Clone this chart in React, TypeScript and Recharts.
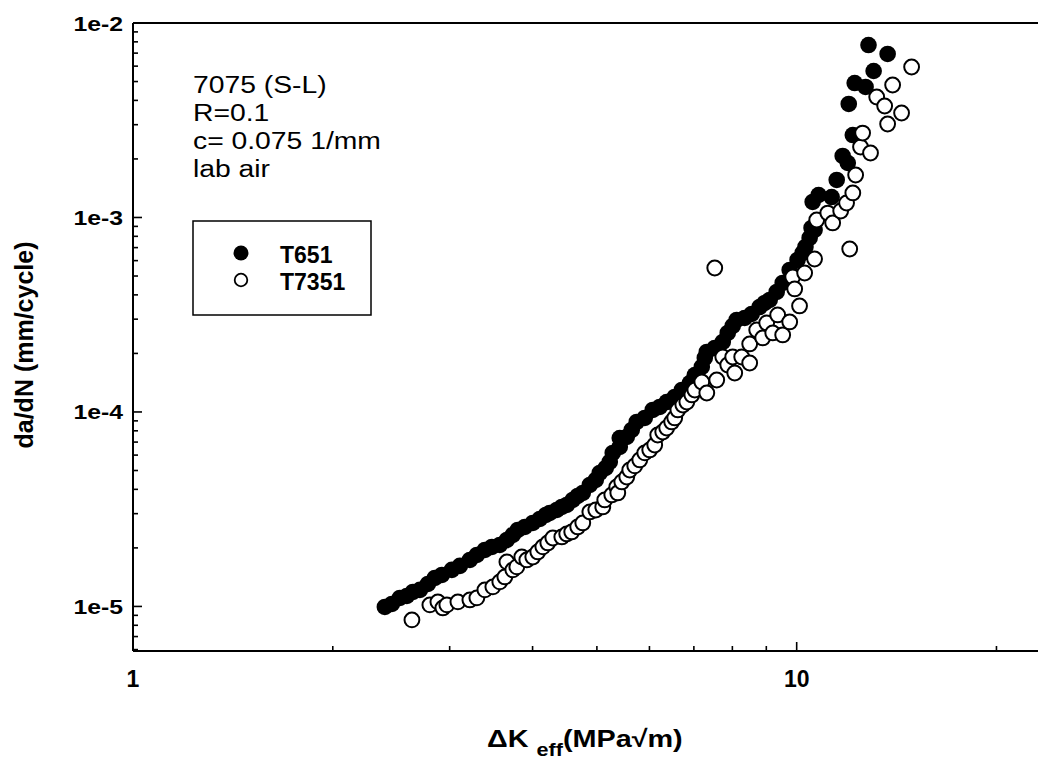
import React from 'react';
import { ScatterChart, Scatter, XAxis, YAxis, ReferenceLine, Customized } from 'recharts';

// ---- data (ΔKeff in MPa√m, da/dN in mm/cycle) ----
const t651X = [
  2.396, 2.455, 2.524, 2.586, 2.641, 2.706, 2.782, 2.85, 2.92, 3.023,
  3.108, 3.218, 3.297, 3.39, 3.473, 3.57, 3.659, 3.735, 3.8, 3.894,
  4.003, 4.102, 4.188, 4.246, 4.351, 4.427, 4.503, 4.598, 4.678, 4.761,
  4.879, 4.981, 5.05, 5.156, 5.228, 5.283, 5.413, 5.413, 5.546, 5.643,
  5.741, 5.903, 6.069, 6.218, 6.37, 6.55, 6.714, 6.903, 7.023, 7.195,
  7.27, 7.321, 7.526, 7.738, 7.873, 8.01, 8.121, 8.35, 8.555, 8.796,
  8.95, 9.106, 9.33, 9.526, 9.761, 10.03, 10.21, 10.31, 10.46, 10.53,
  10.64, 10.57, 10.79, 11.29, 11.49, 11.73, 11.94, 12.15, 11.98, 12.23,
  12.7, 13.06, 12.83, 13.71,
];
const t651Y = [
  9.94e-6, 1.03e-5, 1.106e-5, 1.132e-5, 1.187e-5, 1.216e-5, 1.305e-5, 1.401e-5, 1.452e-5, 1.541e-5,
  1.616e-5, 1.734e-5, 1.84e-5, 1.952e-5, 2.023e-5, 2.071e-5, 2.197e-5, 2.331e-5, 2.473e-5, 2.563e-5,
  2.687e-5, 2.818e-5, 2.954e-5, 3.024e-5, 3.133e-5, 3.247e-5, 3.325e-5, 3.528e-5, 3.699e-5, 3.833e-5,
  4.214e-5, 4.471e-5, 4.857e-5, 5.153e-5, 5.533e-5, 6.156e-5, 6.607e-5, 7.347e-5, 7.436e-5, 8.079e-5,
  8.884e-5, 9.315e-5, 1.024e-4, 1.061e-4, 1.125e-4, 1.194e-4, 1.297e-4, 1.409e-4, 1.549e-4, 1.703e-4,
  1.895e-4, 2.034e-4, 2.133e-4, 2.291e-4, 2.548e-4, 2.768e-4, 2.972e-4, 3.043e-4, 3.191e-4, 3.466e-4,
  3.634e-4, 3.765e-4, 4.14e-4, 4.604e-4, 5.37e-4, 6.045e-4, 6.568e-4, 7.052e-4, 7.844e-4, 8.831e-4,
  8.625e-4, 1.202e-3, 1.305e-3, 1.274e-3, 1.559e-3, 2.071e-3, 1.906e-3, 2.655e-3, 3.833e-3, 4.914e-3,
  4.688e-3, 5.665e-3, 7.706e-3, 6.929e-3,
];
const t7351X = [
  2.632, 2.801, 2.88, 2.93, 2.971, 3.087, 3.218, 3.297, 3.39, 3.485,
  3.57, 3.633, 3.659, 3.735, 3.787, 3.853, 3.921, 4.003, 4.073, 4.145,
  4.217, 4.291, 4.427, 4.503, 4.582, 4.678, 4.761, 4.879, 4.981, 5.103,
  5.138, 5.265, 5.357, 5.376, 5.451, 5.546, 5.604, 5.702, 5.802, 5.903,
  6.006, 6.111, 6.175, 6.283, 6.37, 6.481, 6.55, 6.622, 6.737, 6.831,
  6.951, 7.023, 7.195, 7.321, 7.526, 7.578, 7.738, 7.873, 8.01, 8.066,
  8.264, 8.496, 8.496, 8.705, 8.888, 9.012, 9.203, 9.362, 9.526, 9.761,
  9.863, 9.931, 10.1, 10.28, 10.64, 10.72, 11.14, 11.33, 11.65, 11.89,
  12.02, 12.15, 12.27, 12.48, 12.57, 12.92, 13.2, 13.57, 13.71, 13.95,
  14.39, 14.9,
];
const t7351Y = [
  8.523e-6, 1.018e-5, 1.055e-5, 9.824e-6, 1.018e-5, 1.055e-5, 1.08e-5, 1.106e-5, 1.216e-5, 1.26e-5,
  1.337e-5, 1.418e-5, 1.694e-5, 1.541e-5, 1.597e-5, 1.796e-5, 1.734e-5, 1.796e-5, 1.906e-5, 2.023e-5,
  2.12e-5, 2.249e-5, 2.276e-5, 2.359e-5, 2.415e-5, 2.563e-5, 2.687e-5, 3.06e-5, 3.133e-5, 3.247e-5,
  3.528e-5, 3.743e-5, 4.115e-5, 3.833e-5, 4.366e-5, 4.631e-5, 5.03e-5, 5.278e-5, 5.665e-5, 6.156e-5,
  6.378e-5, 6.763e-5, 7.614e-5, 7.888e-5, 8.269e-5, 8.884e-5, 9.315e-5, 1.024e-4, 1.086e-4, 1.125e-4,
  1.223e-4, 1.297e-4, 1.426e-4, 1.252e-4, 5.499e-4, 1.46e-4, 1.917e-4, 1.744e-4, 1.917e-4, 1.586e-4,
  1.917e-4, 2.237e-4, 1.785e-4, 2.639e-4, 2.402e-4, 2.869e-4, 2.548e-4, 3.153e-4, 2.488e-4, 2.903e-4,
  4.943e-4, 4.29e-4, 3.508e-4, 5.183e-4, 6.117e-4, 9.707e-4, 1.054e-3, 9.37e-4, 1.08e-3, 1.187e-3,
  6.887e-4, 1.337e-3, 1.654e-3, 2.304e-3, 2.718e-3, 2.146e-3, 4.164e-3, 3.743e-3, 3.024e-3, 4.799e-3,
  3.446e-3, 5.941e-3,
];

const xTicks = [1, 2, 3, 4, 5, 6, 7, 8, 9, 10, 20];
const yTicks = [
  6e-6, 7e-6, 8e-6, 9e-6,
  1e-5, 2e-5, 3e-5, 4e-5, 5e-5, 6e-5, 7e-5, 8e-5, 9e-5,
  1e-4, 2e-4, 3e-4, 4e-4, 5e-4, 6e-4, 7e-4, 8e-4, 9e-4,
  1e-3, 2e-3, 3e-3, 4e-3, 5e-3, 6e-3, 7e-3, 8e-3, 9e-3,
  1e-2,
];
const xDomain: [number, number] = [1, 23.1];
const yDomain: [number, number] = [5.9e-6, 1e-2];
const annotationLines = ['7075 (S-L)', 'R=0.1', 'c= 0.075 1/mm', 'lab air'];
const seriesNames = ['T651', 'T7351'];
const xTitle = { main: 'ΔK', sub: 'eff', unit: '(MPa√m)' };
const yTitle = 'da/dN (mm/cycle)';

const t651 = t651X.map((x, i) => ({ x, y: t651Y[i] }));
const t7351 = t7351X.map((x, i) => ({ x, y: t7351Y[i] }));

const FONT = '"Liberation Sans", Arial, Helvetica, sans-serif';

const isDecade = (v: number) => Math.abs(Math.log10(v) - Math.round(Math.log10(v))) < 1e-6;

const XTick = (props: any) => {
  const { x, y, payload } = props;
  const v = payload.value as number;
  const major = isDecade(v);
  return (
    <g>
      <line x1={x} x2={x} y1={y} y2={y - (major ? 9 : 5)} stroke="#000" strokeWidth={1.6} />
      {major && (
        <text x={x} y={687} textAnchor="middle" fontFamily={FONT} fontSize={23} fontWeight="bold" fill="#000">
          {String(v)}
        </text>
      )}
    </g>
  );
};

const YTick = (props: any) => {
  const { x, y, payload } = props;
  const v = payload.value as number;
  const major = isDecade(v);
  const exp = Math.round(Math.log10(v));
  return (
    <g>
      <line x1={x} x2={x + (major ? 9 : 5)} y1={y} y2={y} stroke="#000" strokeWidth={1.6} />
      {major && (
        <text
          x={0}
          y={0}
          transform={`translate(123,${y + 7.5}) scale(1.18,1)`}
          textAnchor="end"
          fontFamily={FONT}
          fontSize={21}
          fontWeight="bold"
          fill="#000"
        >
          {`1e${exp}`}
        </text>
      )}
    </g>
  );
};

const FilledDot = (p: any) => <circle cx={p.cx} cy={p.cy} r={8.3} fill="#000" />;
const OpenDot = (p: any) => (
  <circle cx={p.cx} cy={p.cy} r={7.4} fill="#fff" stroke="#000" strokeWidth={2} />
);

const Decorations = () => (
  <g fontFamily={FONT} fill="#000">
    {annotationLines.map((t, i) => (
      <text
        key={t}
        x={0}
        y={0}
        transform={`translate(193,${92.5 + i * 28.2}) scale(1.16,1)`}
        fontSize={24.4}
      >
        {t}
      </text>
    ))}
    <rect x={193} y={221} width={178} height={94} fill="#fff" stroke="#000" strokeWidth={1.5} />
    <circle cx={241} cy={253} r={7.5} fill="#000" />
    <circle cx={241} cy={280} r={6.3} fill="#fff" stroke="#000" strokeWidth={1.8} />
    <text x={280} y={263} fontSize={23} fontWeight="bold">{seriesNames[0]}</text>
    <text x={280} y={290} fontSize={23} fontWeight="bold">{seriesNames[1]}</text>
    <text
      x={0}
      y={0}
      transform="translate(33,345) rotate(-90)"
      textAnchor="middle"
      fontSize={25}
      fontWeight="bold"
    >
      {yTitle}
    </text>
    <text x={0} y={0} transform="translate(487,747) scale(1.2,1)" fontSize={24} fontWeight="bold">
      {xTitle.main + ' '}
      <tspan dy={9} fontSize={18}>{xTitle.sub}</tspan>
      <tspan dy={-9} fontSize={24}>{xTitle.unit}</tspan>
    </text>
  </g>
);

export default function App() {
  return (
    <div style={{ position: 'fixed', left: 0, top: 0, width: 1038, height: 761, background: '#fff' }}>
      <ScatterChart width={1038} height={761} margin={{ top: 23, right: 0, bottom: 0, left: 0 }}>
        <XAxis
          dataKey="x"
          type="number"
          scale="log"
          domain={xDomain}
          allowDataOverflow
          ticks={xTicks}
          interval={0}
          height={110}
          tickSize={0}
          tickMargin={0}
          tickLine={false}
          tick={<XTick />}
          axisLine={{ stroke: '#000', strokeWidth: 2 }}
        />
        <YAxis
          dataKey="y"
          type="number"
          scale="log"
          domain={yDomain}
          allowDataOverflow
          ticks={yTicks}
          interval={0}
          width={133}
          tickSize={0}
          tickMargin={0}
          tickLine={false}
          tick={<YTick />}
          axisLine={{ stroke: '#000', strokeWidth: 2 }}
        />
        <ReferenceLine y={1e-2} stroke="#000" strokeWidth={2} />
        <Scatter name={seriesNames[0]} data={t651} shape={FilledDot} isAnimationActive={false} />
        <Scatter name={seriesNames[1]} data={t7351} shape={OpenDot} isAnimationActive={false} />
        <Customized component={Decorations} />
      </ScatterChart>
    </div>
  );
}
